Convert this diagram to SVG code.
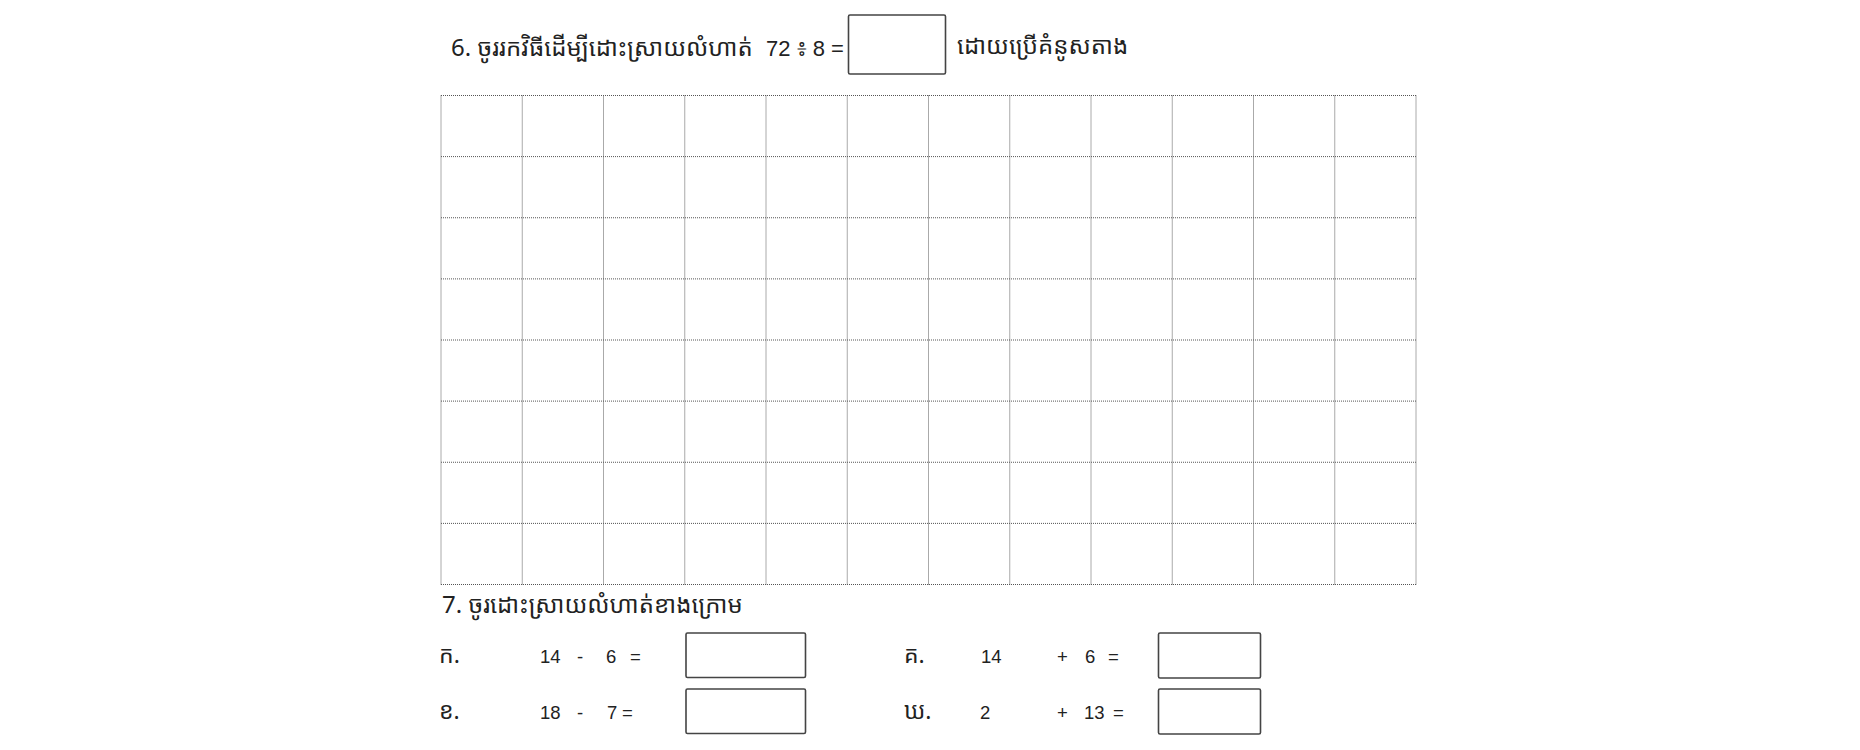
<svg xmlns="http://www.w3.org/2000/svg" width="1860" height="750" viewBox="0 0 1860 750">
<style>
.t{font-family:"Noto Sans Khmer","Khmer OS","Noto Sans","DejaVu Sans",sans-serif;fill:#222;}
.h{font-size:24px;}
.s{font-size:23px;}
.n{font-family:"Liberation Sans",Arial,sans-serif;fill:#222;font-size:18.5px;}
.hn{font-family:"Liberation Sans",Arial,sans-serif;fill:#222;font-size:22px;}
.box{fill:#fff;stroke:#444;stroke-width:1.6;}
.g{stroke:#555;stroke-width:1;stroke-dasharray:1 1;fill:none;}
</style>
<rect width="1860" height="750" fill="#fff"/>
<g id="q6">
<text class="t h" x="451" y="56">6. ចូររកវិធីដើម្បីដោះស្រាយលំហាត់</text>
<text class="hn" x="766" y="56">72 ៖ 8 =</text>
<rect id="answer6" class="box" x="848.5" y="15" width="97" height="59" rx="1.5"/>
<text class="t h" x="957" y="54">ដោយប្រើគំនូសតាង</text>
</g>
<g id="grid">
<path class="g" d="M441 95.5V584.5M522.25 95.5V584.5M603.5 95.5V584.5M684.75 95.5V584.5M766 95.5V584.5M847.25 95.5V584.5M928.5 95.5V584.5M1009.75 95.5V584.5M1091 95.5V584.5M1172.25 95.5V584.5M1253.5 95.5V584.5M1334.75 95.5V584.5M1416 95.5V584.5"/>
<path class="g" d="M441 95.5H1416M441 156.6H1416M441 217.75H1416M441 278.9H1416M441 340H1416M441 401.1H1416M441 462.25H1416M441 523.4H1416M441 584.5H1416"/>
</g>
<g id="q7">
<text class="t h" x="442" y="613">7. ចូរដោះស្រាយលំហាត់ខាងក្រោម</text>
</g>
<g id="itemA">
<text class="t s" x="439" y="663">ក.</text>
<text class="n" x="540" y="663">14</text>
<text class="n" x="577" y="663">-</text>
<text class="n" x="606" y="663">6</text>
<text class="n" x="630" y="663">=</text>
<rect class="box" x="686" y="633" width="119.5" height="44.5" rx="1.5"/>
</g>
<g id="itemB">
<text class="t s" x="439" y="719">ខ.</text>
<text class="n" x="540" y="719">18</text>
<text class="n" x="577" y="719">-</text>
<text class="n" x="607" y="719">7</text>
<text class="n" x="622" y="719">=</text>
<rect class="box" x="686" y="689" width="119.5" height="44.5" rx="1.5"/>
</g>
<g id="itemC">
<text class="t s" x="904" y="663">គ.</text>
<text class="n" x="981" y="663">14</text>
<text class="n" x="1057" y="663">+</text>
<text class="n" x="1085" y="663">6</text>
<text class="n" x="1108" y="663">=</text>
<rect class="box" x="1158.5" y="633" width="102" height="45" rx="1.5"/>
</g>
<g id="itemD">
<text class="t s" x="904" y="719">ឃ.</text>
<text class="n" x="980" y="719">2</text>
<text class="n" x="1057" y="719">+</text>
<text class="n" x="1084" y="719">13</text>
<text class="n" x="1113" y="719">=</text>
<rect class="box" x="1158.5" y="689" width="102" height="45" rx="1.5"/>
</g>
</svg>
